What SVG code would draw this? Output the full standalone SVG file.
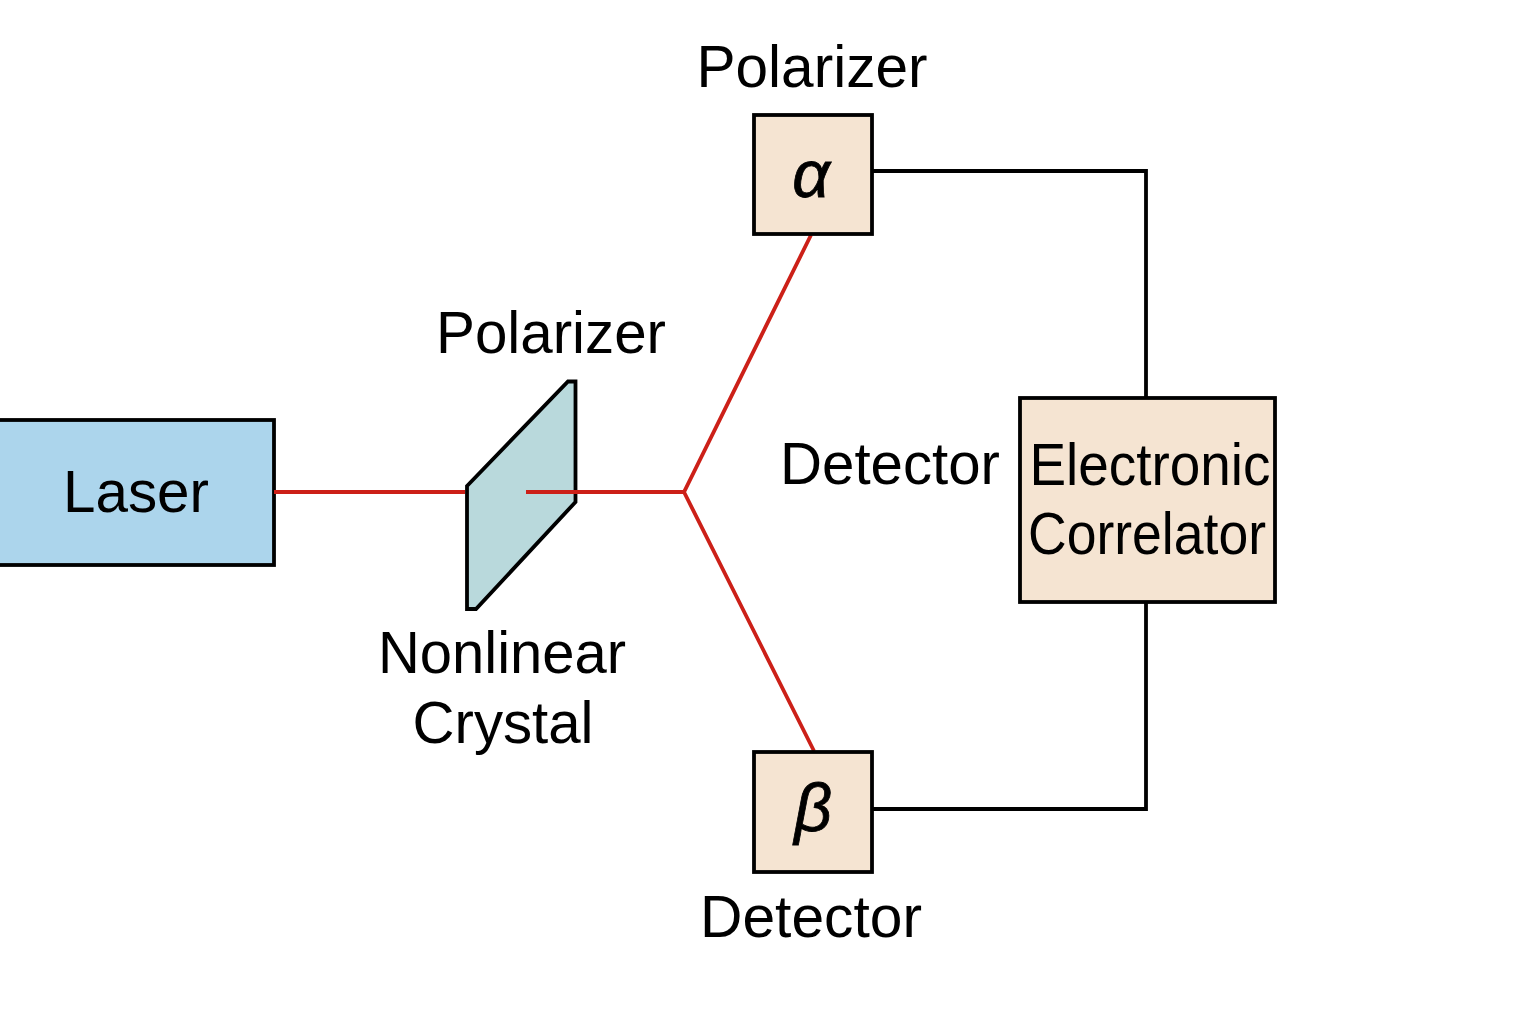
<svg xmlns="http://www.w3.org/2000/svg" width="1536" height="1024" viewBox="0 0 1536 1024">
<style>
text{font-family:"Liberation Sans",Arial,sans-serif;font-size:60px;fill:#000;text-anchor:middle}
.g{font-style:italic;font-size:66px;stroke:#000;stroke-width:.8}
.b{stroke:#000;stroke-width:3.8}
.w{fill:none;stroke:#000;stroke-width:3.8}
.r{fill:none;stroke:#cc2018;stroke-width:3.8}
</style>
<rect width="1536" height="1024" fill="#fff"/>
<g id="laser"><rect class="b" x="-4" y="420" width="278" height="145" fill="#acd5ec"/><text x="136" y="512" textLength="146" lengthAdjust="spacingAndGlyphs">Laser</text></g>
<g id="crystal"><path class="b" d="M467 486L568 381.500H575.500V502L476 609H467Z" fill="#b9d9dc"/><text x="551" y="353" textLength="230" lengthAdjust="spacingAndGlyphs">Polarizer</text><text x="502" y="673" textLength="248" lengthAdjust="spacingAndGlyphs">Nonlinear</text><text x="503" y="743" textLength="181" lengthAdjust="spacingAndGlyphs">Crystal</text></g>
<g id="connectors">
<path class="r" d="M274 492H465M526 492H684L811 235M684 492L814 751"/>
<path class="w" d="M872 171H1146V398M1146 602V809H872"/>
</g>
<g id="alpha"><rect class="b" x="754" y="115" width="118" height="119" fill="#f5e4d2"/><text class="g" x="811" y="197">α</text><text x="812" y="87" textLength="231" lengthAdjust="spacingAndGlyphs">Polarizer</text></g>
<g id="beta"><rect class="b" x="754" y="752" width="118" height="120" fill="#f5e4d2"/><text class="g" x="813" y="831">β</text><text x="811" y="937" textLength="222" lengthAdjust="spacingAndGlyphs">Detector</text></g>
<g id="correlator"><rect class="b" x="1020" y="398" width="255" height="204" fill="#f5e4d2"/><text x="1150" y="485" textLength="241" lengthAdjust="spacingAndGlyphs">Electronic</text><text x="1147" y="554" textLength="238" lengthAdjust="spacingAndGlyphs">Correlator</text></g>
<g id="detector-label"><text x="890" y="484" textLength="220" lengthAdjust="spacingAndGlyphs">Detector</text></g>
</svg>
